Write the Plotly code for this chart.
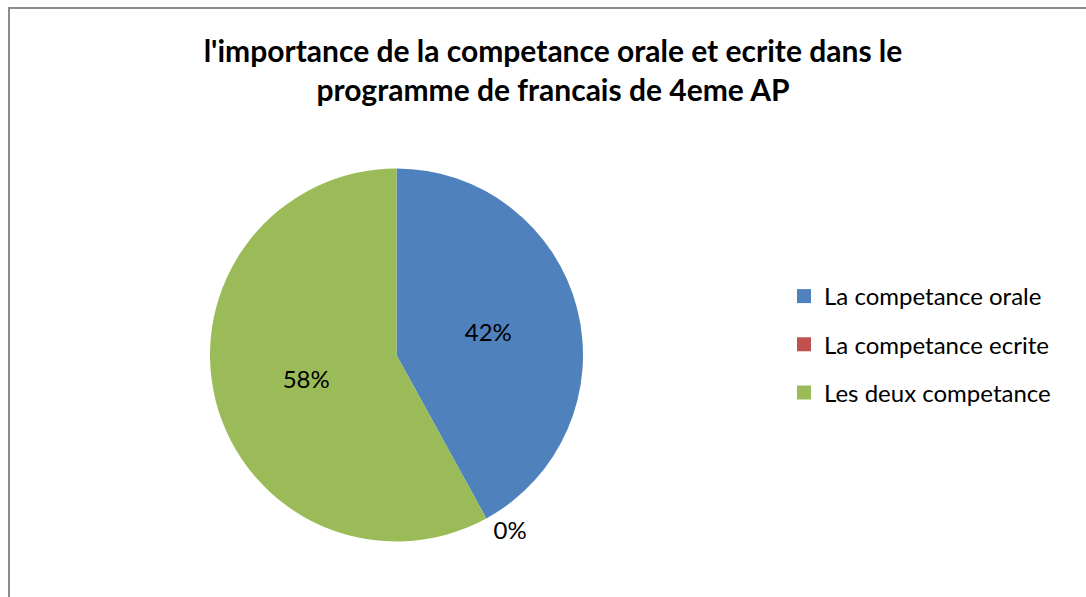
import plotly.graph_objects as go

labels = ["La competance orale", "La competance ecrite", "Les deux competance"]
values = [42, 0, 58]
colors = ["#4F81BD", "#C0504D", "#9BBB59"]
title_text = "l'importance de la competance orale et ecrite dans le<br>programme de francais de 4eme AP"

W, H = 1086, 597
cx, cy, r = 396.5, 355, 186.5

fig = go.Figure()

fig.add_trace(go.Pie(
    labels=labels,
    values=values,
    marker=dict(colors=colors, line=dict(width=0)),
    sort=False,
    direction="clockwise",
    rotation=0,
    texttemplate="%{percent:.0%}",
    textposition=["inside", "outside", "inside"],
    textfont=dict(family="Lato", size=24, color="black"),
    insidetextorientation="horizontal",
    showlegend=False,
    hoverinfo="label+percent",
    domain=dict(x=[(cx - r) / W, (cx + r) / W], y=[1 - (cy + r) / H, 1 - (cy - r) / H]),
))

# legend entries as square markers
for lab, col in zip(labels, colors):
    fig.add_trace(go.Scatter(
        x=[None], y=[None], mode="markers", name=lab, legendgroup=lab,
        marker=dict(symbol="square", size=14, color=col),
    ))

fig.update_layout(
    width=W, height=H,
    margin=dict(l=0, r=0, t=0, b=0),
    paper_bgcolor="white",
    plot_bgcolor="white",
    font=dict(family="Lato", color="black"),
    title=dict(text=title_text, x=553 / W, xanchor="center", y=1 - 62 / H, yanchor="top",
               font=dict(family="Lato", size=30, color="black", weight="bold")),
    xaxis=dict(visible=False),
    yaxis=dict(visible=False),
    legend=dict(x=784 / W, xanchor="left", y=1 - 274 / H, yanchor="top",
                font=dict(family="Lato", size=24, color="black"),
                tracegroupgap=14, bgcolor="rgba(0,0,0,0)"),
    shapes=[dict(type="rect", xref="paper", yref="paper",
                 x0=9 / W, x1=1.05, y0=-0.05, y1=1 - 8 / H,
                 line=dict(color="#8c8c8c", width=2), fillcolor="rgba(0,0,0,0)")],
)

fig.write_html("out.html", config={"displayModeBar": False},
               post_script="document.body.style.margin='0';")
